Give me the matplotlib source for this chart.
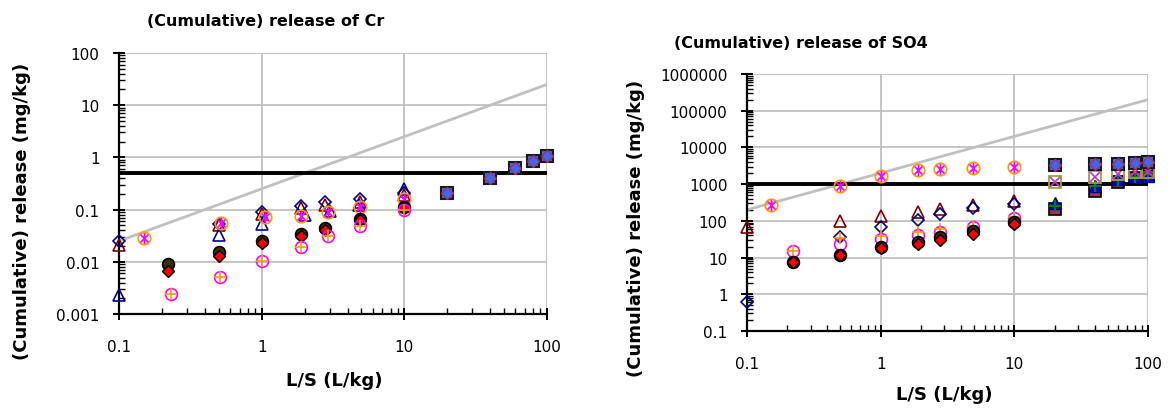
import matplotlib
matplotlib.use("Agg")
import matplotlib.pyplot as plt
from matplotlib.ticker import LogLocator, NullFormatter
from matplotlib.path import Path

plt.rcParams['font.family'] = ['DejaVu Sans']

# ---------------- Data: Cr (left) ----------------
cr_x_main = [0.1, 0.5, 1, 1.9, 2.8, 4.9, 10]
cr_diamond_open = [0.025, 0.053, 0.091, 0.119, 0.138, 0.16, 0.21]
cr_tri_darkred = [0.021, 0.050, 0.082, 0.107, 0.123, 0.141, 0.19]
cr_x_tri_blue = [0.1, 0.5, 1, 2.0, 3.0, 4.8, 10]
cr_tri_blue = [0.0023, 0.033, 0.053, 0.080, 0.095, 0.12, 0.25]
cr_x_orange = [0.15, 0.52, 1.05, 1.9, 2.9, 4.9, 10]
cr_orange_star = [0.029, 0.055, 0.071, 0.076, 0.091, 0.11, 0.16]
cr_x_dark = [0.22, 0.5, 1, 1.9, 2.8, 4.9, 10]
cr_dark_circle = [0.0091, 0.0152, 0.0254, 0.034, 0.044, 0.066, 0.11]
cr_red_diamond = [0.0068, 0.0127, 0.0226, 0.0316, 0.041, 0.063, 0.108]
cr_x_magenta = [0.23, 0.51, 1.0, 1.9, 2.9, 4.9, 10]
cr_magenta_plus = [0.0024, 0.0052, 0.0102, 0.0195, 0.031, 0.049, 0.10]
cr_x_high = [20, 40, 60, 80, 100]
cr_blue_square = [0.205, 0.40, 0.62, 0.84, 1.05]
cr_limit = 0.5
cr_ref_coef = 0.25

# ---------------- Data: SO4 (right) ----------------
so_x_main = [0.1, 0.5, 1, 1.9, 2.8, 4.9, 10]
so_diamond_open = [0.62, 35.5, 66.5, 107, 153, 224, 287]
so_tri_darkred = [66.5, 100, 133, 170, 209, 276, 353]
so_x_orange = [0.15, 0.5, 1, 1.9, 2.8, 4.9, 10]
so_orange_star = [270, 905, 1700, 2420, 2550, 2760, 2870]
so_x_dark = [0.22, 0.5, 1, 1.9, 2.8, 4.9, 10]
so_magenta_circle = [15.5, 23, 32, 41, 48.5, 66.5, 117]
so_orange_plus = [15.5, 35, 39, 48.5, 60, 73.6, 124]
so_dark_circle = [7.4, 11.7, 19, 27, 35.5, 51.8, 91]
so_red_diamond = [7.5, 11.5, 18, 23, 30.5, 43.6, 82]
so_x_high = [20, 40, 60, 80, 100]
so_blue_square = [3300, 3530, 3530, 3760, 3930]
so_olive_x = [1120, 1530, 1880, 2090, 2090]
so_blue_tri = [300, 900, 1380, 1530, 1700]
so_mauve_square = [209, 660, 1120, 1450, 1650]
so_green_plus = [257, 880, 1300, 1600, 1850]
so_limit = 1000
so_ref_coef = 2000

xticks = [0.1, 1, 10, 100]
xticklabels = ["0.1", "1", "10", "100"]
cr_yticks = [0.001, 0.01, 0.1, 1, 10, 100]
cr_yticklabels = ["0.001", "0.01", "0.1", "1", "10", "100"]
so_yticks = [0.1, 1, 10, 100, 1000, 10000, 100000, 1000000]
so_yticklabels = ["0.1", "1", "10", "100", "1000", "10000", "100000", "1000000"]

W, H = 1172, 410
fig = plt.figure(figsize=(W / 100, H / 100), dpi=100)

def px_axes(l, r, t, b):
    return fig.add_axes([l / W, 1 - b / H, (r - l) / W, (b - t) / H])

axL = px_axes(119, 547, 54, 315)
axR = px_axes(747, 1148, 75, 332)

# Excel-style star: vertical bar plus an X
STAR = Path([(0, -1), (0, 1), (-0.72, -0.72), (0.72, 0.72), (-0.72, 0.72), (0.72, -0.72)],
            [Path.MOVETO, Path.LINETO, Path.MOVETO, Path.LINETO, Path.MOVETO, Path.LINETO])

def style(ax, yticks, ylabels, ylim):
    ax.set_xscale('log')
    ax.set_yscale('log')
    ax.set_xlim(0.1, 100)
    ax.set_ylim(*ylim)
    ax.set_xticks(xticks)
    ax.set_xticklabels(xticklabels)
    ax.set_yticks(yticks)
    ax.set_yticklabels(ylabels)
    ax.xaxis.set_minor_locator(LogLocator(base=10, subs=range(2, 10)))
    ax.yaxis.set_minor_locator(LogLocator(base=10, subs=range(2, 10), numticks=20))
    ax.xaxis.set_minor_formatter(NullFormatter())
    ax.yaxis.set_minor_formatter(NullFormatter())
    ax.grid(True, which='major', color='#C0C0C0', lw=1.3, zorder=0)
    for s in ['top', 'right']:
        ax.spines[s].set_visible(False)
    for s in ['left', 'bottom']:
        ax.spines[s].set_color('black')
        ax.spines[s].set_linewidth(1.6)
        ax.spines[s].set_zorder(3.5)
    ax.tick_params(which='major', direction='inout', length=8, width=1.4, labelsize=11)
    ax.tick_params(which='minor', direction='in', length=4, width=1.0)
    ax.tick_params(axis='x', which='major', pad=14)
    ax.tick_params(axis='y', which='major', pad=10)
    ax.set_axisbelow(True)

style(axL, cr_yticks, cr_yticklabels, (0.001, 100))
style(axR, so_yticks, so_yticklabels, (0.1, 1000000))

xr = [0.1, 100]

def plot_common(ax, limit, coef):
    ax.plot(xr, [coef * v for v in xr], color='#C0C0C0', lw=2, zorder=2)
    ax.plot(xr, [limit, limit], color='black', lw=2.8, zorder=3)

plot_common(axL, cr_limit, cr_ref_coef)
plot_common(axR, so_limit, so_ref_coef)

kw = dict(ls='none', zorder=4, clip_on=False)

# left markers
ax = axL
ax.plot(cr_x_main, cr_tri_darkred, marker='^', ms=8, mfc='none', mec='#800000', mew=1.2, **kw)
ax.plot(cr_x_main, cr_diamond_open, marker='D', ms=6, mfc='none', mec='#000080', mew=1.2, **kw)
ax.plot(cr_x_tri_blue, cr_tri_blue, marker='^', ms=8, mfc='none', mec='#0000A0', mew=1.2, **kw)
ax.plot(cr_x_orange, cr_orange_star, marker='o', ms=9, mfc='none', mec='#FF9900', mew=1.2, **kw)
ax.plot(cr_x_orange, cr_orange_star, marker=STAR, ms=8, mfc='none', mec='#FF00FF', mew=1.2, **kw)
ax.plot(cr_x_dark, cr_dark_circle, marker='o', ms=8.5, mfc='#333300', mec='black', mew=1.2, **kw)
ax.plot(cr_x_dark, cr_red_diamond, marker='D', ms=6, mfc='#FF0000', mec='black', mew=1.0, **kw)
ax.plot(cr_x_magenta, cr_magenta_plus, marker='o', ms=8.5, mfc='none', mec='#FF00FF', mew=1.2, **kw)
ax.plot(cr_x_magenta, cr_magenta_plus, marker='+', ms=8, mfc='none', mec='#FF9900', mew=1.2, **kw)
ax.plot(cr_x_high, cr_blue_square, marker='s', ms=9, mfc='#3F67F0', mec='#1A1A1A', mew=1.5, **kw)
ax.plot(cr_x_high, cr_blue_square, marker='D', ms=6, mfc='#3F67F0', mec='#993366', mew=1.0, **kw)

# right markers
ax = axR
ax.plot(so_x_high, so_mauve_square, marker='s', ms=8, mfc='#993366', mec='black', mew=1.2, **kw)
ax.plot(so_x_high, so_blue_tri, marker='^', ms=8, mfc='#0000FF', mec='#000080', mew=1.0, **kw)
ax.plot(so_x_high, so_green_plus, marker='+', ms=9, mfc='none', mec='#008000', mew=1.5, **kw)
ax.plot(so_x_high, so_olive_x, marker='s', ms=9, mfc='none', mec='#A0A040', mew=1.3, **kw)
ax.plot(so_x_high, so_olive_x, marker='x', ms=7, mfc='none', mec='#CC33CC', mew=1.2, **kw)
ax.plot(so_x_high, so_blue_square, marker='s', ms=9, mfc='#3F67F0', mec='#1A1A1A', mew=1.5, **kw)
ax.plot(so_x_high, so_blue_square, marker='D', ms=6, mfc='#3F67F0', mec='#993366', mew=1.0, **kw)
ax.plot(so_x_main, so_tri_darkred, marker='^', ms=8, mfc='none', mec='#800000', mew=1.2, **kw)
ax.plot(so_x_main, so_diamond_open, marker='D', ms=6, mfc='none', mec='#000080', mew=1.2, **kw)
ax.plot(so_x_orange, so_orange_star, marker='o', ms=9, mfc='none', mec='#FF9900', mew=1.2, **kw)
ax.plot(so_x_orange, so_orange_star, marker=STAR, ms=8, mfc='none', mec='#FF00FF', mew=1.2, **kw)
ax.plot(so_x_dark, so_magenta_circle, marker='o', ms=8.5, mfc='none', mec='#FF00FF', mew=1.2, **kw)
ax.plot(so_x_dark, so_orange_plus, marker='+', ms=8, mfc='none', mec='#FF9900', mew=1.2, **kw)
ax.plot(so_x_dark, so_dark_circle, marker='o', ms=8.5, mfc='#333300', mec='black', mew=1.2, **kw)
ax.plot(so_x_dark, so_red_diamond, marker='D', ms=6, mfc='#FF0000', mec='black', mew=1.0, **kw)

def ftext(x, y, s, **k):
    fig.text(x / W, 1 - y / H, s, ha='center', va='center', **k)

ftext(266, 22, "(Cumulative) release of Cr", fontsize=11.5, fontweight='bold')
ftext(801, 44, "(Cumulative) release of SO4", fontsize=11.5, fontweight='bold')
ftext(22, 211, "(Cumulative) release (mg/kg)", fontsize=13, fontweight='bold', rotation=90)
ftext(636, 228, "(Cumulative) release (mg/kg)", fontsize=13, fontweight='bold', rotation=90)
ftext(334, 381, "L/S (L/kg)", fontsize=13, fontweight='bold')
ftext(944, 395, "L/S (L/kg)", fontsize=13, fontweight='bold')

fig.savefig("out.png", dpi=100)
